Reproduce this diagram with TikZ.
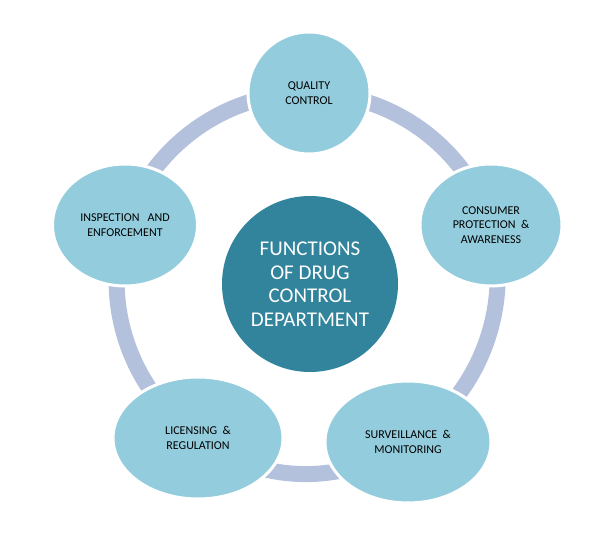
\documentclass[tikz,border=0pt]{standalone}
\usepackage{fontspec}
\setmainfont{Carlito}
\usetikzlibrary{shapes.geometric,backgrounds}

\definecolor{ringblue}{HTML}{B4C1DD}
\definecolor{petalblue}{HTML}{93CDDD}
\definecolor{hubteal}{HTML}{31849B}

\begin{document}
\begin{tikzpicture}[
    x=1pt, y=1pt,
    petal/.style={ellipse, fill=petalblue, draw=white, line width=3pt, inner sep=0pt, minimum height=122pt, align=center, font=\fontsize{12}{14.5}\selectfont},
    hubcircle/.style={circle, fill=hubteal, minimum size=176pt, inner sep=0pt, align=center, text=white, font=\fontsize{21}{23.5}\selectfont},
    ring/.style={draw=ringblue, line width=16pt, bend left=36, looseness=0.94}
]
\useasboundingbox (0,0) rectangle (598,541);

\node (hub)        [hubcircle] at (310,257) {FUNCTIONS\\OF DRUG\\CONTROL\\DEPARTMENT};

\node (quality)    [petal, minimum width=122pt] at (309,448) {QUALITY\\CONTROL};
\node (consumer)   [petal, minimum width=142pt] at (491,316) {CONSUMER\\PROTECTION\ \ \&\\AWARENESS};
\node (surveil)    [petal, minimum width=166pt] at (408,99) {SURVEILLANCE\ \ \&\\MONITORING};
\node (licensing)  [petal, minimum width=170pt] at (198,103) {LICENSING\ \ \&\\REGULATION};
\node (inspection) [petal, minimum width=145pt] at (125,316) {INSPECTION\ \ \ AND\\ENFORCEMENT};

\begin{scope}[on background layer]
\draw[ring] (quality.center) to (consumer.center);
\draw[ring] (consumer.center) to (surveil.center);
\draw[ring] (surveil.center) to (licensing.center);
\draw[ring] (licensing.center) to (inspection.center);
\draw[ring] (inspection.center) to (quality.center);
\end{scope}

\end{tikzpicture}
\end{document}
